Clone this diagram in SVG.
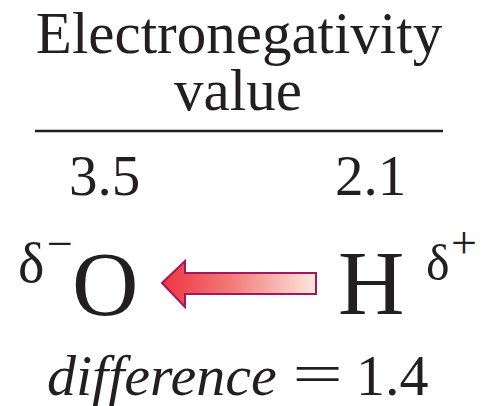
<svg xmlns="http://www.w3.org/2000/svg" width="483" height="406" viewBox="0 0 483 406">
<style>
  .t { font-family: "Liberation Serif", "Times New Roman", serif; fill: #231f20; }
  .i { font-style: italic; }
</style>
<defs>
  <linearGradient id="arrowGrad" x1="0" y1="0" x2="1" y2="0">
    <stop offset="0" stop-color="#ee3540"/>
    <stop offset="0.45" stop-color="#f27a78"/>
    <stop offset="1" stop-color="#fde8de"/>
  </linearGradient>
</defs>
<rect width="483" height="406" fill="#ffffff"/>
<g id="header">
  <text class="t" x="239" y="53" font-size="59" text-anchor="middle">Electronegativity</text>
  <text class="t" x="238" y="110" font-size="59" text-anchor="middle">value</text>
  <line x1="35" y1="131" x2="443" y2="131" stroke="#231f20" stroke-width="2.5"/>
</g>
<g id="values">
  <text class="t" x="69" y="195" font-size="57">3.5</text>
  <text class="t" x="335" y="195" font-size="57">2.1</text>
</g>
<g id="node-O">
  <text class="t" x="18" y="282" font-size="56">δ</text>
  <text class="t" x="47" y="259" font-size="46">−</text>
  <text class="t" x="72" y="315" font-size="92">O</text>
</g>
<g id="node-H">
  <text class="t" x="338" y="314" font-size="92">H</text>
  <text class="t" x="426" y="280" font-size="50">δ</text>
  <text class="t" x="451" y="258" font-size="46">+</text>
</g>
<g id="connectors">
  <polygon points="162,283 185,261 185,273 316,273 316,294 185,294 185,307" fill="url(#arrowGrad)" stroke="#a3175e" stroke-width="2" stroke-linejoin="miter"/>
</g>
<g id="difference">
  <text class="t i" x="47" y="395" font-size="58">difference</text>
  <text class="t" transform="translate(317.5,393) scale(1.55,1)" x="0" y="0" font-size="58" text-anchor="middle">=</text>
  <text class="t" x="356" y="395" font-size="58">1.4</text>
</g>
</svg>
